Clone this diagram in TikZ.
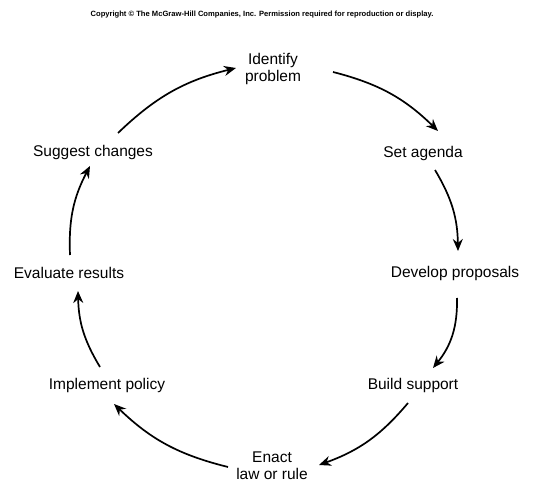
\documentclass[tikz,border=0pt]{standalone}
\usepackage{fontspec}
\setmainfont{Liberation Sans}
\usetikzlibrary{arrows.meta}
\begin{document}
\begin{tikzpicture}[x=1pt,y=1pt,
  lbl/.style={font=\fontsize{15.5}{17}\selectfont, align=center, inner sep=2pt},
  cyc/.style={line width=1.7pt, -{Stealth[length=12pt,width=10pt]}, bend left=#1},
  cyc/.default=15]
\useasboundingbox (0,0) rectangle (546,485);
\node[font=\fontsize{7.6}{9}\selectfont\bfseries] (copy) at (262,470) {Copyright \textcopyright\ The McGraw-Hill Companies, Inc. Permission required for reproduction or display.};
\node[lbl] (ident) at (273,416) {Identify\\problem};
\node[lbl] (setag) at (423,332) {Set agenda};
\node[lbl] (devel) at (455,212) {Develop proposals};
\node[lbl] (build) at (413,100) {Build support};
\node[lbl] (enact) at (272,19) {Enact\\law or rule};
\node[lbl] (impl) at (107,100) {Implement policy};
\node[lbl] (eval) at (69,212) {Evaluate results};
\node[lbl] (sugg) at (93,333) {Suggest changes};
% connector end points
\coordinate (sugg-o) at (118,352);  \coordinate (ident-i) at (236,417);
\coordinate (ident-o) at (333,413); \coordinate (setag-i) at (438,354);
\coordinate (setag-o) at (435,315); \coordinate (devel-i) at (458,234);
\coordinate (devel-o) at (457,187); \coordinate (build-i) at (433,117);
\coordinate (build-o) at (408,82);  \coordinate (enact-i) at (319,20);
\coordinate (enact-o) at (228,18);  \coordinate (impl-i) at (114,81);
\coordinate (impl-o) at (100,118);  \coordinate (eval-i) at (78,194);
\coordinate (eval-o) at (70,230);   \coordinate (sugg-i) at (90,319);
\draw[cyc] (sugg-o) to (ident-i);
\draw[cyc] (ident-o) to (setag-i);
\draw[cyc] (setag-o) to (devel-i);
\draw[cyc=20] (devel-o) to (build-i);
\draw[cyc] (build-o) to (enact-i);
\draw[cyc] (enact-o) to (impl-i);
\draw[cyc] (impl-o) to (eval-i);
\draw[cyc] (eval-o) to (sugg-i);
\end{tikzpicture}
\end{document}
